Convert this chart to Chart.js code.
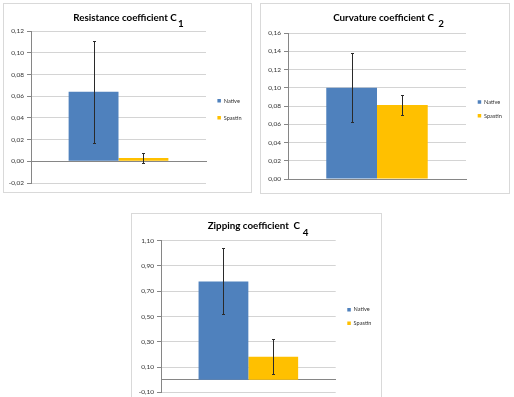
<!DOCTYPE html>
<html>
<head>
<meta charset="utf-8">
<script src="https://cdn.jsdelivr.net/npm/chart.js@4/dist/chart.umd.min.js"></script>
<style>
  html, body { margin: 0; padding: 0; background: #fff; width: 514px; height: 397px; overflow: hidden; }
  .frame { position: absolute; border: 1px solid #d9d9d9; box-sizing: border-box; background: #fff; }
  .frame canvas { position: absolute; left: 0; top: 0; }
</style>
</head>
<body>
<div class="frame" style="left:3px;top:3px;width:249px;height:190px"><canvas id="c1" width="247" height="188"></canvas></div>
<div class="frame" style="left:260px;top:3px;width:250px;height:191px"><canvas id="c2" width="248" height="189"></canvas></div>
<div class="frame" style="left:131px;top:213px;width:251px;height:200px"><canvas id="c3" width="249" height="198"></canvas></div>
<script>
// ---- data ----
const categories = [''];
const seriesNames = ['Native', 'Spastin'];
const seriesColors = ['#4F81BD', '#FFC000'];

const resistanceTitle = 'Resistance coefficient C';
const resistanceSub = '1';
const resistanceValues = [0.064, 0.003];
const resistanceErrors = [0.047, 0.005];
const resistanceTicks = [-0.02, 0.00, 0.02, 0.04, 0.06, 0.08, 0.10, 0.12];

const curvatureTitle = 'Curvature coefficient C';
const curvatureSub = '2';
const curvatureValues = [0.100, 0.081];
const curvatureErrors = [0.038, 0.011];
const curvatureTicks = [0.00, 0.02, 0.04, 0.06, 0.08, 0.10, 0.12, 0.14, 0.16];

const zippingTitle = 'Zipping coefficient  C';
const zippingSub = '4';
const zippingValues = [0.778, 0.181];
const zippingErrors = [0.261, 0.138];
const zippingTicks = [-0.10, 0.10, 0.30, 0.50, 0.70, 0.90, 1.10];

const FONT = 'Lato, "Open Sans", sans-serif';
const fmt = v => v.toFixed(2).replace('.', ',');

const errorBarPlugin = {
  id: 'errorBars',
  afterDatasetsDraw(chart) {
    const ctx = chart.ctx, y = chart.scales.y;
    chart.data.datasets.forEach((ds, di) => {
      const meta = chart.getDatasetMeta(di);
      meta.data.forEach((bar, i) => {
        const v = ds.data[i], e = ds.errors[i];
        const yt = Math.round(y.getPixelForValue(v + e)) + 0.5;
        const yb = Math.round(y.getPixelForValue(v - e)) + 0.5;
        const x = Math.round(bar.x) + 0.5;
        ctx.save();
        ctx.strokeStyle = '#2a2a2a';
        ctx.lineWidth = 1;
        ctx.beginPath();
        ctx.moveTo(x, yt); ctx.lineTo(x, yb);
        ctx.moveTo(x - 1.5, yt); ctx.lineTo(x + 1.5, yt);
        ctx.moveTo(x - 1.5, yb); ctx.lineTo(x + 1.5, yb);
        ctx.stroke();
        ctx.restore();
      });
    });
  }
};

const subscriptPlugin = {
  id: 'titleSub',
  afterDraw(chart, args, opts) {
    const tb = chart.titleBlock;
    if (!tb || !opts.text) return;
    const ctx = chart.ctx;
    const f = Chart.helpers.toFont(tb.options.font);
    ctx.save();
    ctx.font = f.string;
    const w = ctx.measureText(tb.options.text).width;
    const cx = (tb.left + tb.right) / 2;
    const cy = tb.top + tb._padding.top + f.lineHeight / 2;
    ctx.font = Chart.helpers.toFont({family: FONT, size: opts.size, weight: 'bold'}).string;
    ctx.fillStyle = '#000';
    ctx.textBaseline = 'middle';
    ctx.textAlign = 'left';
    ctx.fillText(opts.text, cx + w / 2 + opts.gap, cy + opts.drop);
    ctx.restore();
  }
};

const legendShiftPlugin = {
  id: 'legendShift',
  afterLayout(chart, args, opts) {
    const lg = chart.legend;
    if (!lg) return;
    lg.left += opts.dx; lg.right += opts.dx;
    lg.top += opts.dy; lg.bottom += opts.dy;
  }
};

function makeChart(id, title, sub, values, errors, ticks, lay) {
  const datasets = seriesNames.map((name, i) => ({
    label: name,
    data: [values[i]],
    errors: [errors[i]],
    backgroundColor: seriesColors[i],
    borderWidth: 0,
    barPercentage: 1,
    categoryPercentage: 0.57
  }));
  return new Chart(document.getElementById(id), {
    type: 'bar',
    data: { labels: categories, datasets },
    plugins: [errorBarPlugin, subscriptPlugin, legendShiftPlugin],
    options: {
      responsive: false,
      animation: false,
      devicePixelRatio: 1,
      layout: { padding: { left: 0, top: 0, right: lay.right, bottom: lay.bottom } },
      plugins: {
        tooltip: { enabled: false },
        title: {
          display: true, text: title, color: '#000',
          font: { family: FONT, size: 9.8, weight: 'bold', lineHeight: 1.2 },
          padding: { top: lay.titleTop, bottom: lay.titleBottom }
        },
        titleSub: { text: sub, size: 9.8, gap: lay.subGap, drop: lay.subDrop },
        legendShift: { dx: lay.legDx, dy: lay.legDy },
        legend: {
          position: 'right', fullSize: false, maxWidth: 40,
          labels: { boxWidth: 3.5, boxHeight: 3.5, padding: lay.legPad, color: '#333333',
                    font: { family: FONT, size: 5.6 } }
        }
      },
      scales: {
        x: {
          type: 'category',
          position: { y: 0 },
          ticks: { display: false },
          grid: { display: false },
          border: { display: true, color: '#868686', width: 1 }
        },
        y: {
          min: ticks[0], max: ticks[ticks.length - 1],
          afterBuildTicks: s => { s.ticks = ticks.map(v => ({ value: v })); },
          afterFit: s => { s.width = lay.axisW; },
          ticks: { callback: v => fmt(v), color: '#333333', padding: 3,
                   font: { family: FONT, size: 6.5 } },
          grid: { color: '#d4d4d4', tickColor: '#868686', tickLength: 4, drawTicks: true },
          border: { display: true, color: '#868686', width: 1 }
        }
      }
    }
  });
}

makeChart('c1', resistanceTitle, resistanceSub, resistanceValues, resistanceErrors, resistanceTicks,
  { right: 5, bottom: 9, titleTop: 8.12, titleBottom: 7.12, axisW: 27,
    subGap: 1.3, subDrop: 5.7, legPad: 11.4, legDx: 0, legDy: 2.2 });
makeChart('c2', curvatureTitle, curvatureSub, curvatureValues, curvatureErrors, curvatureTicks,
  { right: 3, bottom: 14, titleTop: 8.12, titleBottom: 9.12, axisW: 27,
    subGap: 4.3, subDrop: 5.7, legPad: 8.1, legDx: 3.6, legDy: 2.85 });
makeChart('c3', zippingTitle, zippingSub, zippingValues, zippingErrors, zippingTicks,
  { right: 5.3, bottom: 19.7, titleTop: 6.12, titleBottom: 8.82, axisW: 29,
    subGap: 2.7, subDrop: 7, legPad: 8.1, legDx: 3.5, legDy: 0 });
</script>
</body>
</html>
